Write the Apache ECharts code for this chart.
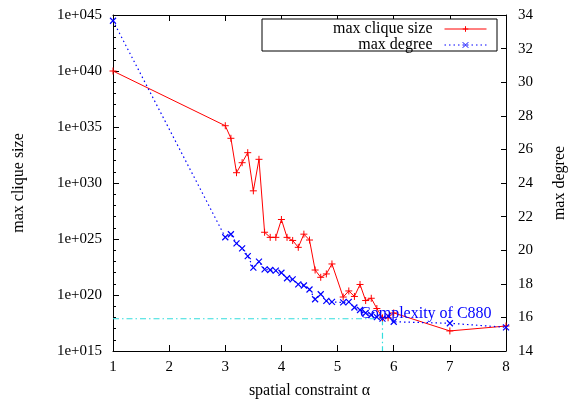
<!DOCTYPE html>
<html>
<head>
<meta charset="utf-8">
<script src="https://cdn.jsdelivr.net/npm/echarts@6/dist/echarts.min.js"></script>
<style>
html,body{margin:0;padding:0;background:#fff;}
#chart{width:577px;height:405px;}
</style>
</head>
<body>
<div id="chart"></div>
<script>
// ---- data ----
const alpha = [1, 3.0, 3.1, 3.2, 3.3, 3.4, 3.5, 3.6, 3.7, 3.8, 3.9, 4.0, 4.1, 4.2, 4.3, 4.4, 4.5, 4.6, 4.7, 4.8, 4.9,
  5.1, 5.2, 5.3, 5.4, 5.5, 5.6, 5.7, 5.8, 5.9, 6.0, 7, 8];
const maxCliqueSize = [1e40, 1.3e35, 9.8e33, 8.3e30, 6.5e31, 5.1e32, 2.0e29, 1.3e32, 4.0e25, 1.4e25, 1.4e25,
  5.5e26, 1.4e25, 7.4e24, 1.8e24, 2.7e25, 8.1e24, 1.7e22, 3.8e21, 7.6e21, 5.9e22,
  6.6e19, 2.3e20, 7.4e19, 8.7e20, 3.2e19, 5.1e19, 6.2e18, 9.1e17, 9.3e17, 2.5e18, 6.2e16, 1.7e17];
const maxDegree = [33.66, 20.77, 20.95, 20.41, 20.11, 19.65, 18.96, 19.32, 18.86, 18.82, 18.78,
  18.66, 18.33, 18.26, 17.97, 17.90, 17.66, 17.08, 17.38, 16.98, 16.92,
  16.89, 16.92, 16.59, 16.44, 16.26, 16.14, 16.02, 15.93, 16.08, 15.74, 15.65, 15.41];
const seriesNames = ['max clique size', 'max degree'];
const thresholdAlpha = 5.8;
const thresholdClique = 7.6e17;
const annotationAlpha = 5.4;
const annotationText = 'Complexity of C880';
const xMin = 1, xMax = 8, xStep = 1;
const yLogMin = 1e15, yLogMax = 1e45, yLogStepDecades = 5;
const yDegMin = 14, yDegMax = 34, yDegStep = 2;

// ---- chart ----
const FONT = 'Liberation Serif';
const plus = 'path://M0,5L10,5M5,0L5,10';
const cross = 'path://M0,0L10,10M10,0L0,10';

const cliqueData = alpha.map((a, i) => [a, maxCliqueSize[i]]);
const degreeData = alpha.map((a, i) => [a, maxDegree[i]]);

const chart = echarts.init(document.getElementById('chart'), null, {renderer: 'canvas'});
const axisLine = {show: true, lineStyle: {color: '#000', width: 1}};
const option = {
  animation: false,
  backgroundColor: '#fff',
  textStyle: {fontFamily: FONT, color: '#000'},
  grid: {left: 113, right: 71, top: 15, bottom: 54, containLabel: false},
  graphic: [{
    id: 'legendBox', type: 'rect', z: 1,
    shape: {x: 262, y: 19, width: 235, height: 32},
    style: {fill: '#fff', stroke: '#000', lineWidth: 1}
  }],
  legend: {
    data: seriesNames,
    orient: 'vertical',
    align: 'right',
    right: 90,
    top: 21,
    padding: 0,
    itemGap: 0,
    itemWidth: 42,
    itemHeight: 7,
    z: 5,
    lineStyle: {width: 1},
    itemStyle: {borderWidth: 1},
    textStyle: {fontFamily: FONT, fontSize: 16, color: '#000', lineHeight: 15, padding: [0, 7, 0, 0]}
  },
  xAxis: [{
    type: 'value', min: xMin, max: xMax, interval: xStep,
    name: 'spatial constraint α', nameLocation: 'middle', nameGap: 32,
    nameTextStyle: {fontFamily: FONT, fontSize: 16, color: '#000'},
    axisLine: axisLine,
    axisTick: {show: true, inside: true, length: 6, lineStyle: {color: '#000'}},
    axisLabel: {fontFamily: FONT, fontSize: 15, color: '#000', margin: 9},
    splitLine: {show: false}
  }, {
    type: 'value', position: 'top', min: xMin, max: xMax, interval: xStep,
    axisLine: axisLine,
    axisTick: {show: true, inside: true, length: 6, lineStyle: {color: '#000'}},
    axisLabel: {show: false},
    splitLine: {show: false}
  }],
  yAxis: [{
    type: 'log', logBase: 10, min: yLogMin, max: yLogMax, interval: yLogStepDecades,
    position: 'left',
    name: 'max clique size', nameLocation: 'middle', nameGap: 86, nameRotate: 90,
    nameTextStyle: {fontFamily: FONT, fontSize: 16, color: '#000'},
    axisLine: axisLine,
    axisTick: {show: true, inside: true, length: 6, lineStyle: {color: '#000'}},
    axisLabel: {
      fontFamily: FONT, fontSize: 15, color: '#000', margin: 11,
      formatter: v => '1e+' + String(Math.round(Math.log10(v))).padStart(3, '0')
    },
    splitLine: {show: false}
  }, {
    type: 'value', min: yDegMin, max: yDegMax, interval: yDegStep,
    position: 'right',
    name: 'max degree', nameLocation: 'middle', nameGap: 46, nameRotate: 90,
    nameTextStyle: {fontFamily: FONT, fontSize: 16, color: '#000'},
    axisLine: axisLine,
    axisTick: {show: true, inside: true, length: 5, lineStyle: {color: '#000'}},
    axisLabel: {fontFamily: FONT, fontSize: 15, color: '#000', margin: 12},
    splitLine: {show: false}
  }, {
    type: 'value', min: Math.log10(yLogMin), max: Math.log10(yLogMax), interval: 1,
    position: 'left',
    axisLine: {show: false},
    axisTick: {show: true, inside: true, length: 3, lineStyle: {color: '#000'}},
    axisLabel: {show: false},
    splitLine: {show: false}
  }],
  series: [{
    name: seriesNames[0], type: 'line', xAxisIndex: 0, yAxisIndex: 0,
    data: cliqueData,
    symbol: plus, symbolSize: 7, showAllSymbol: true,
    lineStyle: {color: '#ff0000', width: 1},
    itemStyle: {color: '#ff0000', borderColor: '#ff0000', borderWidth: 1},
    emphasis: {disabled: true}, z: 3
  }, {
    name: seriesNames[1], type: 'line', xAxisIndex: 0, yAxisIndex: 1,
    data: degreeData,
    symbol: cross, symbolSize: 6, showAllSymbol: true,
    lineStyle: {color: '#0000ff', width: 1.2, type: [1.5, 3]},
    itemStyle: {color: '#0000ff', borderColor: '#0000ff', borderWidth: 1.2},
    emphasis: {disabled: true}, z: 3
  }, {
    name: 'threshold', type: 'line', xAxisIndex: 0, yAxisIndex: 0,
    data: [[xMin, thresholdClique], [thresholdAlpha, thresholdClique], [thresholdAlpha, yLogMin]],
    symbol: 'none',
    lineStyle: {color: '#33dddd', width: 1.2, type: [6, 3, 1.5, 3]},
    emphasis: {disabled: true}, z: 2
  }]
};
chart.setOption(option);

// annotation text placed through the chart's own scales
const pt = chart.convertToPixel({xAxisIndex: 0, yAxisIndex: 0}, [annotationAlpha, thresholdClique]);
chart.setOption({
  graphic: [{
    id: 'annotation', type: 'text', z: 100,
    x: pt[0], y: pt[1] + 3,
    style: {
      text: annotationText, fontFamily: FONT, fontSize: 16, fill: '#0000ff',
      textAlign: 'left', textVerticalAlign: 'bottom'
    }
  }]
});
</script>
</body>
</html>
